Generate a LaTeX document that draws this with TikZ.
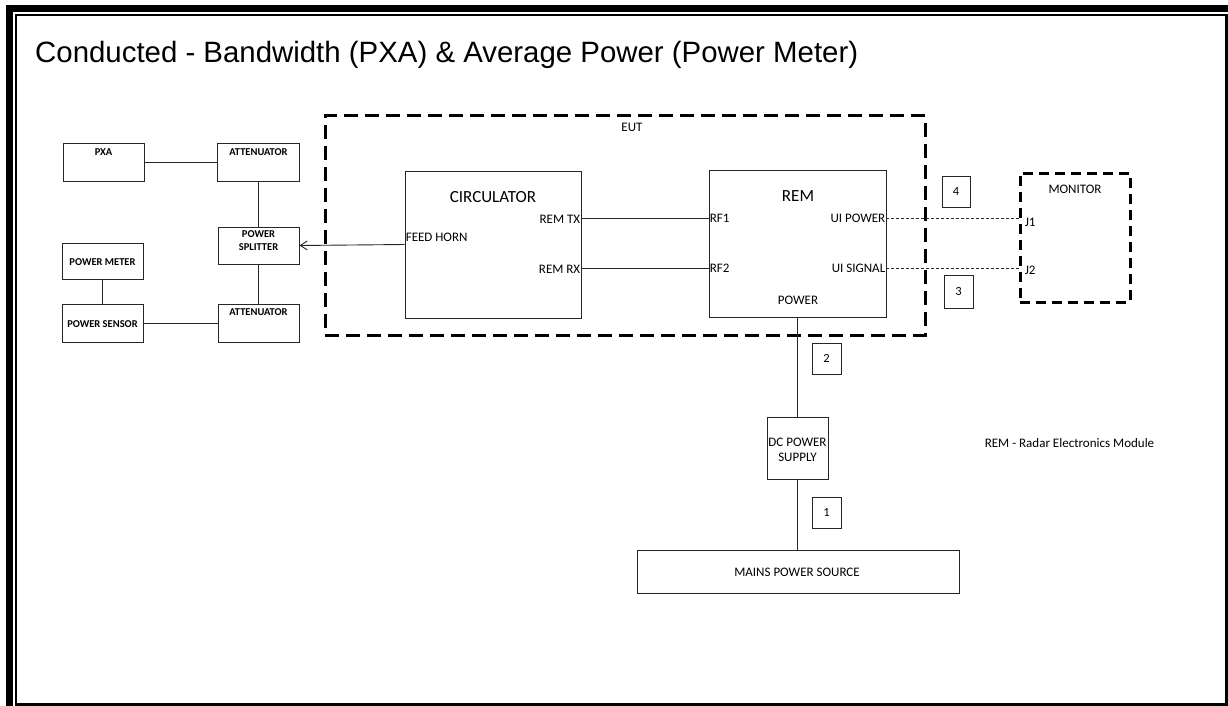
\documentclass[tikz,border=0pt]{standalone}
\usepackage{fontspec}
\setmainfont{Carlito}
\newfontfamily\titlefont{Liberation Sans}
\usetikzlibrary{arrows.meta}
\begin{document}
\begin{tikzpicture}[x=1pt,y=-1pt,
  box/.style={draw=black!85,line width=0.9pt,rectangle,inner sep=0pt},
  numbox/.style={box,minimum width=29pt,minimum height=31pt,font=\fontsize{12.5}{14}\selectfont},
  bl/.style={font=\fontsize{10.5}{12.5}\selectfont\bfseries,inner sep=0pt,align=center},
  lbl/.style={font=\fontsize{13}{15}\selectfont,inner sep=0.6pt,align=center},
  big/.style={font=\fontsize{17}{19}\selectfont,inner sep=0pt},
  wire/.style={draw=black!85,line width=0.9pt},
  dotwire/.style={draw=black!85,line width=0.9pt,dash pattern=on 3pt off 2pt},
  eutdash/.style={draw=black,line width=3pt,dash pattern=on 14pt off 7pt},
  mondash/.style={draw=black,line width=3pt,dash pattern=on 10pt off 6pt},
  arr/.style={wire,-{Straight Barb[length=7pt,width=9pt,line width=0.9pt]}}
]
\useasboundingbox (0,0) rectangle (1228,706);
% frame
\draw[line width=6.5pt] (9.5,706) -- (9.5,8.5) -- (1228,8.5);
\draw[line width=2pt] (16,706) -- (16,15) -- (1228,15);
\draw[line width=3pt] (1226.5,15) -- (1226.5,704.5) -- (16,704.5);
% title
\node[anchor=base west,inner sep=0pt,font=\titlefont\fontsize{29.4}{34}\selectfont] (title) at (35,63) {Conducted - Bandwidth (PXA) \& Average Power (Power Meter)};
% EUT and monitor dashed boundaries
\node[eutdash,rectangle,minimum width=600pt,minimum height=219pt] (eut) at (625,225.5) {};
\node[lbl] (eutl) at (632,127) {EUT};
\node[mondash,rectangle,minimum width=110pt,minimum height=129pt] (mon) at (1075,237.5) {};
\node[lbl] (monl) at (1075,189) {MONITOR};
\node[lbl,anchor=west] (j1) at (1024,222) {J1};
\node[lbl,anchor=west] (j2) at (1024,270) {J2};
% left instruments
\node[box,minimum width=81pt,minimum height=38pt] (pxa) at (103.5,162) {};
\node[bl] (pxal) at (103.5,152) {PXA};
\node[box,minimum width=82pt,minimum height=38pt] (att1) at (258.5,162) {};
\node[bl] (att1l) at (258.5,152) {ATTENUATOR};
\node[box,minimum width=81pt,minimum height=37pt] (split) at (258.5,245.5) {};
\node[bl] (splitl) at (258.5,240.5) {POWER\\SPLITTER};
\node[box,minimum width=81pt,minimum height=38pt] (att2) at (258.5,323) {};
\node[bl] (att2l) at (258.5,312.5) {ATTENUATOR};
\node[box,minimum width=81pt,minimum height=36pt] (pm) at (102.5,261) {};
\node[bl] (pml) at (102.5,262.5) {POWER METER};
\node[box,minimum width=81pt,minimum height=38pt] (ps) at (102.5,323) {};
\node[bl] (psl) at (102.5,324) {POWER SENSOR};
% circulator and REM
\node[box,minimum width=176pt,minimum height=147pt] (circ) at (493,244.5) {};
\node[big] (circl) at (493,197) {CIRCULATOR};
\node[lbl,anchor=east] (remtx) at (581,219) {REM TX};
\node[lbl,anchor=east] (remrx) at (581,269) {REM RX};
\node[lbl,anchor=west] (feed) at (405,237) {FEED HORN};
\node[box,minimum width=177pt,minimum height=147pt] (rem) at (797.5,243.5) {};
\node[big] (reml) at (798,196) {REM};
\node[lbl,anchor=west] (rf1) at (709,218) {RF1};
\node[lbl,anchor=west] (rf2) at (709,268) {RF2};
\node[lbl,anchor=east] (uip) at (886,218) {UI POWER};
\node[lbl,anchor=east] (uis) at (886,268) {UI SIGNAL};
\node[lbl] (powl) at (798,300) {POWER};
% power chain
\node[box,minimum width=61pt,minimum height=62pt] (dc) at (797.5,448) {};
\node[lbl] (dcl) at (797.5,449.5) {DC POWER\\SUPPLY};
\node[box,minimum width=322pt,minimum height=43pt] (mains) at (798,571.5) {};
\node[lbl] (mainsl) at (797,572) {MAINS POWER SOURCE};
% number boxes
\node[numbox] (n1) at (826.5,512.5) {1};
\node[numbox] (n2) at (826.5,358.5) {2};
\node[numbox,minimum height=33pt] (n3) at (958.5,291.5) {3};
\node[numbox,minimum width=28pt] (n4) at (956,191.5) {4};
% legend
\node[lbl,anchor=west] (legend) at (984,443) {REM - Radar Electronics Module};
% connectors
\draw[wire] (pxa.east) -- (att1.west |- pxa.east);
\draw[wire] (att1.south) -- (split.north);
\draw[wire] (split.south) -- (att2.north);
\draw[wire] (pm.south) -- (ps.north);
\draw[wire] (ps.east) -- (att2.west |- ps.east);
\draw[arr] (circ.west) -- (split.east);
\draw[wire] (circ.east |- rf1.west) -- (rf1.west);
\draw[wire] (circ.east |- rf2.west) -- (rf2.west);
\draw[dotwire] (rem.east |- uip.east) -- (mon.west |- uip.east);
\draw[dotwire] (rem.east |- uis.east) -- (mon.west |- uis.east);
\draw[wire] (rem.south) -- (dc.north);
\draw[wire] (dc.south) -- (dc.south |- mains.north);
\end{tikzpicture}
\end{document}
